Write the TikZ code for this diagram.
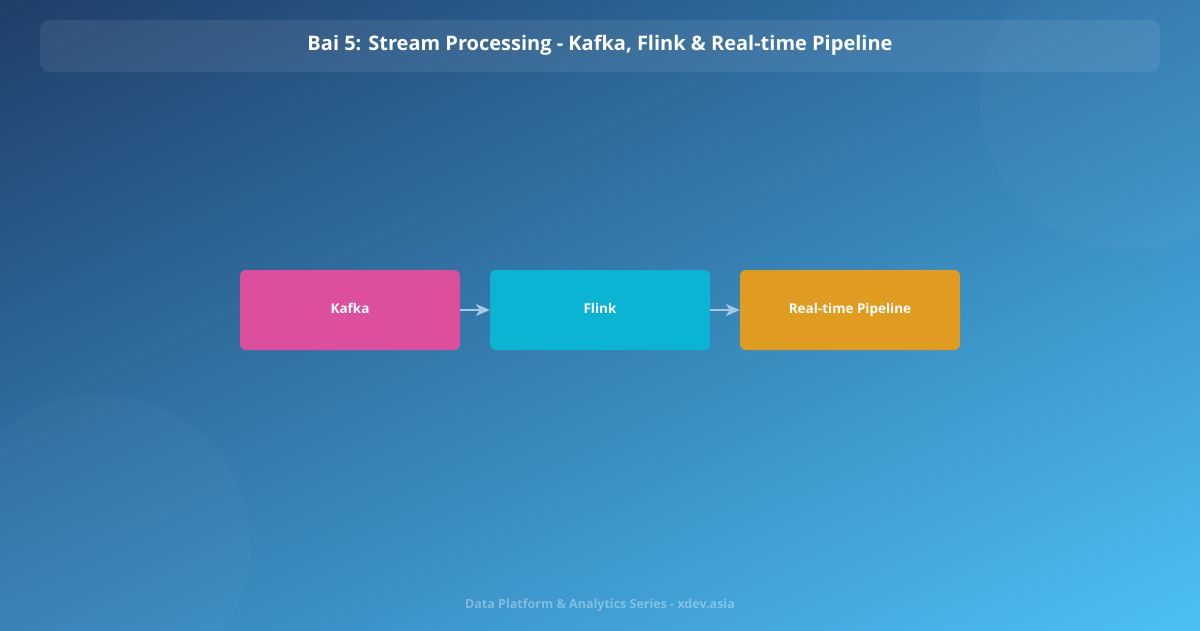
\documentclass[tikz,border=0pt]{standalone}
\usepackage{fontspec}
\setmainfont{Open Sans}
\usetikzlibrary{arrows.meta,shadings}
\definecolor{bgA}{HTML}{1F3E68}
\definecolor{bgB}{HTML}{3A8CC6}
\definecolor{bgC}{HTML}{4CC0F2}
\definecolor{kafka}{HTML}{DC4F9C}
\definecolor{flink}{HTML}{0CB4D4}
\definecolor{rtp}{HTML}{E09C20}
\definecolor{arr}{HTML}{A9C8E2}
\tikzset{
  box/.style={rounded corners=6pt, minimum width=220pt, minimum height=80pt, text=white, font=\bfseries\fontsize{13.5}{16}\selectfont, inner sep=0pt, text height=1.6ex, text depth=0.4ex},
  conn/.style={draw=arr, line width=1.5pt, -{Stealth[length=14pt,width=12pt,inset=4pt]}}
}
\begin{document}
\begin{tikzpicture}[x=1pt,y=-1pt]
\useasboundingbox (0,0) rectangle (1200,630);
\shade[upper left=bgA, lower right=bgC, upper right=bgB!80!bgA, lower left=bgB!85!bgA] (0,0) rectangle (1200,630);
\fill[white, opacity=0.025] (1130,100) circle (150);
\fill[white, opacity=0.025] (100,545) circle (150);
\fill[white, opacity=0.08, rounded corners=10pt] (40,20) rectangle (1160,72);
\node[text=white, font=\bfseries\fontsize{20}{24}\selectfont] (title) at (600,45) {Bai 5: Stream Processing - Kafka, Flink \& Real-time Pipeline};
\node[box, fill=kafka] (k) at (350,310) {Kafka};
\node[box, fill=flink] (f) at (600,310) {Flink};
\node[box, fill=rtp] (r) at (850,310) {Real-time Pipeline};
\draw[conn] (k) -- (f);
\draw[conn] (f) -- (r);
\node[text=white, opacity=0.35, font=\bfseries\fontsize{12.5}{15}\selectfont] (foot) at (600,605) {Data Platform \& Analytics Series - xdev.asia};
\end{tikzpicture}
\end{document}
